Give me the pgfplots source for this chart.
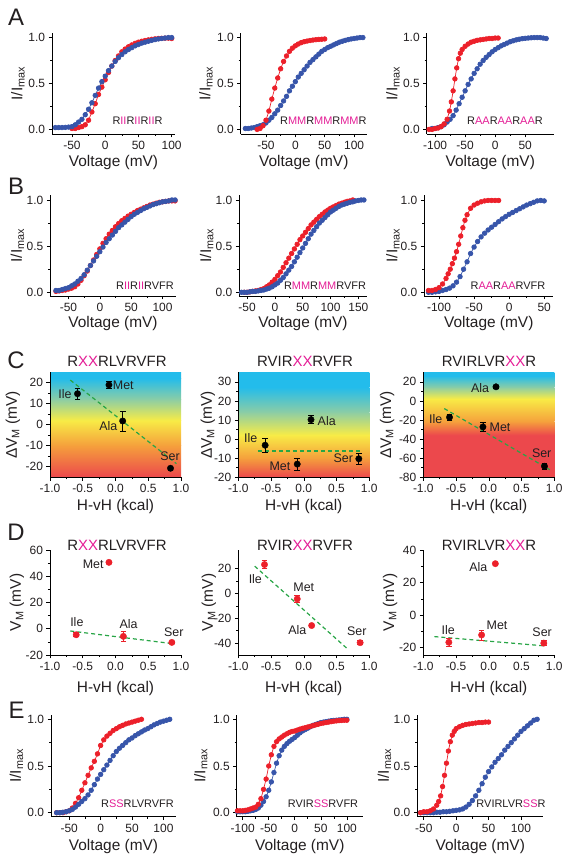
\documentclass[border=0pt]{standalone}
\usepackage{fontspec}
\setmainfont{Liberation Sans}
\usepackage{pgfplots}
\pgfplotsset{compat=1.18}
\definecolor{myred}{RGB}{236,32,42}
\definecolor{myblue}{RGB}{55,85,170}
\definecolor{mag}{RGB}{228,30,150}
\definecolor{txt}{RGB}{35,31,32}
\definecolor{dgreen}{RGB}{40,165,70}
\definecolor{gcyan}{RGB}{35,188,235}
\definecolor{ggreen}{RGB}{140,205,165}
\definecolor{gyellow}{RGB}{248,236,70}
\definecolor{gorange}{RGB}{245,160,60}
\definecolor{gred}{RGB}{236,72,76}
\newcommand{\m}[1]{\textcolor{mag}{#1}}
\newcommand{\band}[4]{\shade[bottom color=#3, top color=#4, draw=none] (axis cs:-1,#1) rectangle (axis cs:1,#2);}
\newcommand{\fl}{\fontsize{24}{26}\selectfont}
\newcommand{\fa}{\fontsize{15.5}{17}\selectfont}
\newcommand{\fti}{\fontsize{15}{17}\selectfont}
\newcommand{\fin}{\fontsize{11}{12}\selectfont}
\newcommand{\fpt}{\fontsize{12.5}{14}\selectfont}
\newcommand{\lab}[3]{\node[font=\fpt, text=txt, inner sep=0pt] at (axis cs:#1,#2) {#3};}
\pgfplotsset{
 base/.style={scale only axis, anchor=south west, axis x line*=bottom, axis y line*=left,
   tick align=outside, major tick length=3.5bp, minor tick length=2bp,
   every tick/.style={black, line width=0.6bp},
   axis line style={line width=0.7bp, black, -},
   tick label style={font=\fontsize{12}{13}\selectfont, text=txt},
   /pgf/number format/assume math mode=true, clip=false},
 iv/.style={base, ytick={0,0.5,1},
   yticklabel style={/pgf/number format/fixed, /pgf/number format/fixed zerofill, /pgf/number format/precision=1},
   minor y tick num=1, minor x tick num=1},
 kc/.style={base, xmin=-1, xmax=1, xtick={-1,-0.5,0,0.5,1},
   xticklabel style={/pgf/number format/fixed, /pgf/number format/fixed zerofill, /pgf/number format/precision=1},
   minor x tick num=1},
 rd/.style={myred, line width=0.7bp, mark=*, mark size=2.3bp},
 bl/.style={myblue, line width=0.7bp, mark=*, mark size=2.3bp},
 pts/.style={only marks, mark=*, mark size=3.2bp,
   error bars/y dir=both, error bars/y explicit,
   error bars/error bar style={line width=0.7bp},
   error bars/error mark options={rotate=90, mark size=2.8bp, line width=0.7bp}},
 fit/.style={dgreen, line width=1.2bp, dash pattern=on 4bp off 3bp},
}
\begin{document}
\begin{tikzpicture}
\useasboundingbox (0,0) rectangle (568bp,863bp);
% ---------- Row A ----------
\begin{axis}[iv, at={(52bp,729bp)}, width=123bp, height=101bp, xmin=-80, xmax=105, ymin=-0.05, ymax=1.05, xtick={-50,0,50,100}]
\addplot[rd] coordinates {(-50,0.01)(-45,0.01)(-40,0.02)(-35,0.03)(-30,0.05)(-25,0.1)(-20,0.19)(-15,0.28)(-10,0.38)(-5,0.46)(0,0.54)(5,0.62)(10,0.69)(15,0.75)(20,0.8)(25,0.845)(30,0.875)(35,0.9)(40,0.92)(45,0.937)(50,0.95)(55,0.96)(60,0.968)(65,0.975)(70,0.981)(75,0.986)(80,0.99)(85,0.992)(90,0.994)(95,0.994)(100,0.99)};
\addplot[bl] coordinates {(-75,0.02)(-70,0.02)(-65,0.02)(-60,0.022)(-55,0.025)(-50,0.03)(-45,0.05)(-40,0.08)(-35,0.11)(-30,0.16)(-25,0.22)(-20,0.29)(-15,0.37)(-10,0.45)(-5,0.52)(0,0.58)(5,0.64)(10,0.69)(15,0.74)(20,0.78)(25,0.815)(30,0.845)(35,0.87)(40,0.89)(45,0.91)(50,0.925)(55,0.94)(60,0.95)(65,0.96)(70,0.97)(75,0.978)(80,0.985)(85,0.99)(90,0.995)(95,1.0)(100,1.0)};
\end{axis}
\begin{axis}[iv, at={(240.7bp,729bp)}, width=126.3bp, height=101bp, xmin=-93, xmax=122, ymin=-0.05, ymax=1.05, xtick={-50,0,50,100}]
\addplot[bl] coordinates {(-85,0.01)(-80,0.01)(-75,0.015)(-70,0.02)(-65,0.03)(-60,0.04)(-55,0.05)(-50,0.07)(-45,0.1)(-40,0.13)(-35,0.17)(-30,0.21)(-25,0.26)(-20,0.31)(-15,0.36)(-10,0.42)(-5,0.47)(0,0.52)(5,0.57)(10,0.61)(15,0.65)(20,0.69)(25,0.73)(30,0.76)(35,0.79)(40,0.82)(45,0.85)(50,0.87)(55,0.89)(60,0.905)(65,0.92)(70,0.935)(75,0.95)(80,0.96)(85,0.97)(90,0.978)(95,0.985)(100,0.99)(105,0.995)(110,1.0)(115,1.0)};
\addplot[rd] coordinates {(-65,0.0)(-60,0.01)(-55,0.04)(-50,0.1)(-45,0.2)(-40,0.33)(-35,0.45)(-30,0.56)(-25,0.66)(-20,0.74)(-15,0.8)(-10,0.85)(-5,0.885)(0,0.91)(5,0.93)(10,0.945)(15,0.955)(20,0.962)(25,0.968)(30,0.973)(35,0.977)(40,0.98)(45,0.982)(50,0.985)};
\end{axis}
\begin{axis}[iv, at={(426.7bp,729bp)}, width=127.3bp, height=101bp, xmin=-114, xmax=98, ymin=-0.05, ymax=1.05, xtick={-100,-50,0,50}]
\addplot[bl] coordinates {(-105,0.01)(-100,0.01)(-95,0.02)(-90,0.03)(-85,0.05)(-80,0.08)(-75,0.11)(-70,0.15)(-65,0.21)(-60,0.28)(-55,0.35)(-50,0.42)(-45,0.49)(-40,0.55)(-35,0.61)(-30,0.66)(-25,0.71)(-20,0.75)(-15,0.785)(-10,0.815)(-5,0.845)(0,0.87)(5,0.89)(10,0.91)(15,0.925)(20,0.94)(25,0.955)(30,0.965)(35,0.975)(40,0.982)(45,0.988)(50,0.992)(55,0.995)(60,0.998)(65,1.0)(70,1.0)(75,1.0)(80,0.995)(85,0.99)};
\addplot[rd] coordinates {(-110,0.0)(-105,0.0)(-100,0.01)(-95,0.015)(-90,0.03)(-85,0.06)(-80,0.11)(-76,0.2)(-73,0.3)(-70,0.42)(-67,0.55)(-64,0.67)(-61,0.77)(-58,0.83)(-55,0.87)(-50,0.905)(-45,0.93)(-40,0.95)(-35,0.96)(-30,0.97)(-25,0.975)(-20,0.98)(-15,0.985)(-10,0.99)(-5,0.99)(0,0.995)(5,0.995)};
\end{axis}
% ---------- Row B ----------
\begin{axis}[iv, at={(50.3bp,567bp)}, width=125.4bp, height=101bp, xmin=-79, xmax=121, ymin=-0.04, ymax=1.054, xtick={-50,0,50,100}]
\addplot[rd] coordinates {(-70,0.01)(-65,0.015)(-60,0.02)(-55,0.025)(-50,0.035)(-45,0.045)(-40,0.06)(-35,0.09)(-30,0.13)(-25,0.18)(-20,0.23)(-15,0.29)(-10,0.35)(-5,0.41)(0,0.47)(5,0.53)(10,0.58)(15,0.63)(20,0.67)(25,0.71)(30,0.745)(35,0.775)(40,0.8)(45,0.825)(50,0.845)(55,0.865)(60,0.885)(65,0.9)(70,0.915)(75,0.93)(80,0.945)(85,0.955)(90,0.965)(95,0.975)(100,0.98)(105,0.985)(110,0.99)(115,0.99)(120,0.99)};
\addplot[bl] coordinates {(-70,0.02)(-65,0.02)(-60,0.03)(-55,0.04)(-50,0.05)(-45,0.07)(-40,0.09)(-35,0.12)(-30,0.15)(-25,0.19)(-20,0.24)(-15,0.29)(-10,0.34)(-5,0.39)(0,0.44)(5,0.49)(10,0.54)(15,0.58)(20,0.62)(25,0.66)(30,0.7)(35,0.73)(40,0.76)(45,0.79)(50,0.82)(55,0.845)(60,0.865)(65,0.885)(70,0.905)(75,0.92)(80,0.935)(85,0.95)(90,0.96)(95,0.97)(100,0.98)(105,0.985)(110,0.99)(115,1.0)(120,1.0)};
\end{axis}
\begin{axis}[iv, at={(239.3bp,567bp)}, width=127.4bp, height=101bp, xmin=-64, xmax=165, ymin=-0.04, ymax=1.054, xtick={-50,0,50,100,150}]
\addplot[rd] coordinates {(-55,0.0)(-50,0.0)(-45,0.005)(-40,0.01)(-35,0.015)(-30,0.02)(-25,0.03)(-20,0.04)(-15,0.06)(-10,0.08)(-5,0.11)(0,0.14)(5,0.18)(10,0.22)(15,0.27)(20,0.32)(25,0.37)(30,0.42)(35,0.47)(40,0.52)(45,0.57)(50,0.61)(55,0.65)(60,0.69)(65,0.73)(70,0.76)(75,0.79)(80,0.82)(85,0.845)(90,0.87)(95,0.89)(100,0.91)(105,0.925)(110,0.94)(115,0.955)(120,0.965)(125,0.975)(130,0.985)(135,0.99)(140,1.0)};
\addplot[bl] coordinates {(-60,0.0)(-55,0.0)(-50,0.0)(-45,0.005)(-40,0.01)(-35,0.01)(-30,0.015)(-25,0.02)(-20,0.025)(-15,0.035)(-10,0.045)(-5,0.06)(0,0.08)(5,0.1)(10,0.13)(15,0.16)(20,0.2)(25,0.24)(30,0.28)(35,0.33)(40,0.38)(45,0.43)(50,0.48)(55,0.53)(60,0.58)(65,0.63)(70,0.67)(75,0.71)(80,0.75)(85,0.78)(90,0.81)(95,0.84)(100,0.87)(105,0.89)(110,0.91)(115,0.93)(120,0.945)(125,0.955)(130,0.965)(135,0.975)(140,0.98)(145,0.99)(150,0.995)(155,1.0)(160,1.0)};
\end{axis}
\begin{axis}[iv, at={(424.3bp,567bp)}, width=129bp, height=101bp, xmin=-121, xmax=63, ymin=-0.04, ymax=1.054, xtick={-100,-50,0,50}]
\addplot[bl] coordinates {(-115,0.0)(-110,0.0)(-105,0.005)(-100,0.01)(-95,0.02)(-90,0.03)(-85,0.045)(-80,0.07)(-75,0.11)(-70,0.17)(-65,0.25)(-60,0.33)(-55,0.42)(-50,0.49)(-45,0.55)(-40,0.6)(-35,0.64)(-30,0.675)(-25,0.705)(-20,0.735)(-15,0.765)(-10,0.795)(-5,0.82)(0,0.845)(5,0.865)(10,0.885)(15,0.905)(20,0.925)(25,0.945)(30,0.96)(35,0.975)(40,0.99)(45,0.995)(50,0.99)};
\addplot[rd] coordinates {(-115,0.02)(-110,0.02)(-105,0.03)(-100,0.05)(-95,0.09)(-90,0.15)(-87,0.2)(-84,0.25)(-81,0.31)(-78,0.37)(-75,0.44)(-72,0.52)(-69,0.61)(-66,0.7)(-63,0.78)(-60,0.84)(-55,0.91)(-50,0.945)(-45,0.965)(-40,0.98)(-35,0.99)(-30,0.995)(-25,0.995)(-20,0.995)(-15,0.995)};
\end{axis}
% ---------- Row C ----------
\begin{axis}[kc, axis on top, at={(50bp,385.7bp)}, width=131bp, height=105bp, ymin=-25, ymax=25, ytick={-20,-10,0,10,20}, minor y tick num=1]
\band{-25}{-9.8}{gred}{gorange}
\band{-10}{2.2}{gorange}{gyellow}
\band{2}{12.2}{gyellow}{ggreen}
\band{12}{22.2}{ggreen}{gcyan}
\band{22}{25}{gcyan}{gcyan}
\addplot[fit] coordinates {(-0.69,21.3)(0.93,-18.5)};
\addplot[pts, black] table[x=x, y=y, y error=e] {
x y e
-0.58 14.8 2.5
-0.1 19 1.5
0.11 1.8 4.7
0.84 -20.7 0.8
};
\end{axis}
\begin{axis}[kc, axis on top, at={(238.3bp,385.7bp)}, width=131bp, height=105bp, ymin=-20, ymax=35, ytick={-20,-10,0,10,20,30}, minor y tick num=1]
\band{-20}{-9.8}{gred}{gorange}
\band{-10}{2.2}{gorange}{gyellow}
\band{2}{14.2}{gyellow}{ggreen}
\band{14}{27.2}{ggreen}{gcyan}
\band{27}{35}{gcyan}{gcyan}
\addplot[fit] coordinates {(-0.7,-6.2)(0.88,-6.2)};
\addplot[pts, black] table[x=x, y=y, y error=e] {
x y e
-0.59 -3.2 3.8
-0.1 -13.1 3
0.11 10.2 2
0.84 -10.3 3
};
\end{axis}
\begin{axis}[kc, axis on top, at={(423.3bp,385.7bp)}, width=131bp, height=105bp, ymin=-80, ymax=30, ytick={-80,-60,-40,-20,0,20}, minor y tick num=1]
\band{-80}{-35.5}{gred}{gred}
\band{-36}{-21.5}{gred}{gorange}
\band{-22}{2.5}{gorange}{gyellow}
\band{2}{14.5}{gyellow}{ggreen}
\band{14}{26.5}{ggreen}{gcyan}
\band{26}{30}{gcyan}{gcyan}
\addplot[fit] coordinates {(-0.68,-8)(0.93,-72)};
\addplot[pts, black] table[x=x, y=y, y error=e] {
x y e
-0.6 -17.1 3
-0.09 -27.2 5
0.11 14.8 1.5
0.85 -68.4 3
};
\end{axis}
% ---------- Row D ----------
\begin{axis}[kc, at={(50bp,208bp)}, width=131bp, height=105bp, ymin=-20, ymax=60, ytick={-20,0,20,40,60}, minor y tick num=1]
\addplot[fit] coordinates {(-0.69,-1.7)(0.83,-11.1)};
\addplot[pts, myred] table[x=x, y=y, y error=e] {
x y e
-0.6 -4.6 1.5
-0.1 50.6 1
0.12 -5.8 3.5
0.86 -10.4 1
};
\lab{-0.34}{49.5}{Met}
\lab{-0.59}{4.9}{Ile}
\lab{0.2}{3.6}{Ala}
\lab{0.89}{-2.7}{Ser}
\end{axis}
\begin{axis}[kc, at={(238.3bp,208bp)}, width=131bp, height=105bp, ymin=-49.5, ymax=35, ytick={-40,-20,0,20}, minor y tick num=1]
\addplot[fit] coordinates {(-0.75,22)(0.67,-44.7)};
\addplot[pts, myred] table[x=x, y=y, y error=e] {
x y e
-0.6 23.3 3
-0.1 -4.4 3
0.12 -25.8 1.5
0.86 -39.6 1.5
};
\lab{-0.74}{11.3}{Ile}
\lab{0.0}{5.4}{Met}
\lab{-0.1}{-29.8}{Ala}
\lab{0.81}{-30.6}{Ser}
\end{axis}
\begin{axis}[kc, at={(423.3bp,208bp)}, width=131bp, height=105bp, ymin=-24.5, ymax=40, ytick={-20,0,20,40}, minor y tick num=1]
\addplot[fit] coordinates {(-0.83,-13.2)(0.85,-18.9)};
\addplot[pts, myred] table[x=x, y=y, y error=e] {
x y e
-0.61 -16.7 2.5
-0.11 -12.2 3
0.1 31.6 1
0.84 -17.2 1.5
};
\lab{-0.16}{29.4}{Ala}
\lab{-0.62}{-9.1}{Ile}
\lab{0.126}{-6.3}{Met}
\lab{0.815}{-10.2}{Ser}
\end{axis}
% ---------- Row E ----------
\begin{axis}[iv, at={(51bp,46.3bp)}, width=125bp, height=101.7bp, xmin=-79, xmax=120, ymin=-0.043, ymax=1.046, xtick={-50,0,50,100}]
\addplot[rd] coordinates {(-70,0.0)(-65,0.0)(-60,0.0)(-55,0.01)(-50,0.02)(-45,0.05)(-40,0.1)(-35,0.16)(-30,0.24)(-25,0.32)(-20,0.4)(-15,0.48)(-10,0.55)(-5,0.63)(0,0.72)(5,0.78)(10,0.82)(15,0.85)(20,0.88)(25,0.9)(30,0.92)(35,0.935)(40,0.95)(45,0.96)(50,0.97)(55,0.98)(60,0.99)(65,1.0)};
\addplot[bl] coordinates {(-70,0.0)(-65,0.0)(-60,0.005)(-55,0.01)(-50,0.02)(-45,0.035)(-40,0.06)(-35,0.09)(-30,0.12)(-25,0.15)(-20,0.19)(-15,0.24)(-10,0.3)(-5,0.36)(0,0.41)(5,0.46)(10,0.51)(15,0.56)(20,0.61)(25,0.655)(30,0.69)(35,0.72)(40,0.75)(45,0.78)(50,0.8)(55,0.825)(60,0.845)(65,0.865)(70,0.885)(75,0.9)(80,0.92)(85,0.94)(90,0.955)(95,0.97)(100,0.98)(105,0.99)(110,1.0)};
\end{axis}
\begin{axis}[iv, at={(236.7bp,46.3bp)}, width=126.3bp, height=101.7bp, xmin=-111.5, xmax=131, ymin=-0.043, ymax=1.046, xtick={-100,-50,0,50,100}]
\addplot[bl] coordinates {(-110,0.01)(-105,0.01)(-100,0.01)(-95,0.01)(-90,0.015)(-85,0.02)(-80,0.025)(-75,0.035)(-70,0.05)(-65,0.08)(-60,0.12)(-55,0.17)(-50,0.24)(-45,0.33)(-40,0.43)(-35,0.53)(-30,0.61)(-25,0.67)(-20,0.71)(-15,0.74)(-10,0.765)(-5,0.785)(0,0.805)(5,0.83)(10,0.855)(15,0.875)(20,0.89)(25,0.905)(30,0.92)(35,0.935)(40,0.945)(45,0.955)(50,0.965)(55,0.97)(60,0.975)(65,0.98)(70,0.985)(75,0.988)(80,0.99)(85,0.993)(90,0.995)(95,1.0)(100,1.0)};
\addplot[rd] coordinates {(-110,0.02)(-105,0.02)(-100,0.02)(-95,0.025)(-90,0.03)(-85,0.04)(-80,0.05)(-75,0.06)(-70,0.09)(-65,0.15)(-60,0.25)(-55,0.36)(-50,0.5)(-45,0.62)(-40,0.71)(-35,0.76)(-30,0.79)(-25,0.81)(-20,0.83)(-15,0.845)(-10,0.86)(-5,0.87)(0,0.875)(5,0.885)(10,0.895)(15,0.903)(20,0.91)(25,0.918)(30,0.925)(35,0.932)(40,0.94)(45,0.947)(50,0.955)(55,0.96)(60,0.965)(65,0.97)(70,0.975)(75,0.98)(80,0.983)(85,0.986)(90,0.988)(95,0.99)(100,0.99)};
\end{axis}
\begin{axis}[iv, at={(417.3bp,46.3bp)}, width=126bp, height=101.7bp, xmin=-60, xmax=134.5, ymin=-0.043, ymax=1.046, xtick={-50,0,50,100}]
\addplot[bl] coordinates {(-55,0.0)(-50,0.0)(-45,0.0)(-40,0.0)(-35,0.0)(-30,0.005)(-25,0.005)(-20,0.01)(-15,0.01)(-10,0.015)(-5,0.02)(0,0.025)(5,0.03)(10,0.04)(15,0.06)(20,0.09)(25,0.13)(30,0.18)(35,0.24)(40,0.31)(45,0.38)(50,0.44)(55,0.49)(60,0.54)(65,0.58)(70,0.62)(75,0.67)(80,0.71)(85,0.75)(90,0.79)(95,0.83)(100,0.87)(105,0.9)(110,0.93)(115,0.96)(120,0.99)(125,1.0)};
\addplot[rd] coordinates {(-55,0.0)(-50,0.01)(-45,0.01)(-40,0.02)(-35,0.04)(-30,0.08)(-27,0.12)(-24,0.18)(-21,0.28)(-18,0.4)(-15,0.53)(-12,0.66)(-9,0.76)(-6,0.83)(-3,0.87)(0,0.9)(5,0.92)(10,0.935)(15,0.945)(20,0.95)(25,0.955)(30,0.96)(35,0.965)(40,0.965)(45,0.97)(50,0.97)};
\end{axis}
% ---------- text ----------
\begin{scope}[every node/.style={text=txt, inner sep=0pt}]
\node[font=\fl] at (16bp,845.5bp) {A};
\node[font=\fl] at (16bp,676.3bp) {B};
\node[font=\fl] at (16bp,503bp) {C};
\node[font=\fl] at (16bp,330.5bp) {D};
\node[font=\fl] at (16.7bp,152.3bp) {E};
% y labels
\foreach \x/\y in {18/779.5, 206/779.5, 393/779.5, 17.5/617.5, 206.7/617.5, 393/617.5, 16.5/97.2, 200.8/97.2, 384.5/97.2}
  \node[font=\fa, rotate=90] at (\x bp,\y bp) {I/I\textsubscript{max}};
\foreach \x in {13, 208, 387}
  \node[font=\fa, rotate=90] at (\x bp,438.2bp) {ΔV\textsubscript{M} (mV)};
\foreach \x in {17, 209, 390}
  \node[font=\fa, rotate=90] at (\x bp,260.5bp) {V\textsubscript{M} (mV)};
% x labels
\foreach \x in {113.5, 303.8, 490.3}
  \node[font=\fa] at (\x bp,700bp) {Voltage (mV)};
\foreach \x in {113, 303, 488.8}
  \node[font=\fa] at (\x bp,539bp) {Voltage (mV)};
\foreach \x in {113.5, 299.8, 480.3}
  \node[font=\fa] at (\x bp,16.3bp) {Voltage (mV)};
\foreach \x in {115.5, 303.8, 488.8}
  \node[font=\fa] at (\x bp,356.3bp) {H-vH (kcal)};
\foreach \x in {115.5, 303.8, 488.8}
  \node[font=\fa] at (\x bp,174bp) {H-vH (kcal)};
% titles
\node[font=\fti] at (117bp,501.3bp) {R\m{XX}RLVRVFR};
\node[font=\fti] at (305bp,501.3bp) {RVIR\m{XX}RVFR};
\node[font=\fti] at (489bp,501.3bp) {RVIRLVR\m{XX}R};
\node[font=\fti] at (117bp,318bp) {R\m{XX}RLVRVFR};
\node[font=\fti] at (305bp,318bp) {RVIR\m{XX}RVFR};
\node[font=\fti] at (489bp,318bp) {RVIRLVR\m{XX}R};
% inner sequence labels
\node[font=\fin] at (137.5bp,742.3bp) {R\m{II}R\m{II}R\m{II}R};
\node[font=\fin] at (323.3bp,742.3bp) {R\m{MM}R\m{MM}R\m{MM}R};
\node[font=\fin] at (505bp,742.3bp) {R\m{AA}R\m{AA}R\m{AA}R};
\node[font=\fin] at (145bp,577bp) {R\m{II}R\m{II}RVFR};
\node[font=\fin] at (325bp,577bp) {R\m{MM}R\m{MM}RVFR};
\node[font=\fin] at (508bp,577bp) {R\m{AA}R\m{AA}RVFR};
\node[font=\fin] at (137.5bp,59bp) {R\m{SS}RLVRVFR};
\node[font=\fin] at (323bp,59bp) {RVIR\m{SS}RVFR};
\node[font=\fin] at (511bp,59bp) {RVIRLVR\m{SS}R};
% point labels C
\node[font=\fpt] at (65bp,468.7bp) {Ile};
\node[font=\fpt] at (123.3bp,477.3bp) {Met};
\node[font=\fpt] at (108.3bp,437bp) {Ala};
\node[font=\fpt] at (170bp,406.3bp) {Ser};
\node[font=\fpt] at (250.7bp,424.7bp) {Ile};
\node[font=\fpt] at (280bp,397bp) {Met};
\node[font=\fpt] at (326.7bp,442.3bp) {Ala};
\node[font=\fpt] at (343.3bp,404.7bp) {Ser};
\node[font=\fpt] at (480bp,475.3bp) {Ala};
\node[font=\fpt] at (435.7bp,444bp) {Ile};
\node[font=\fpt] at (500bp,435.7bp) {Met};
\node[font=\fpt] at (541.7bp,409.7bp) {Ser};
\end{scope}
\end{tikzpicture}
\end{document}
